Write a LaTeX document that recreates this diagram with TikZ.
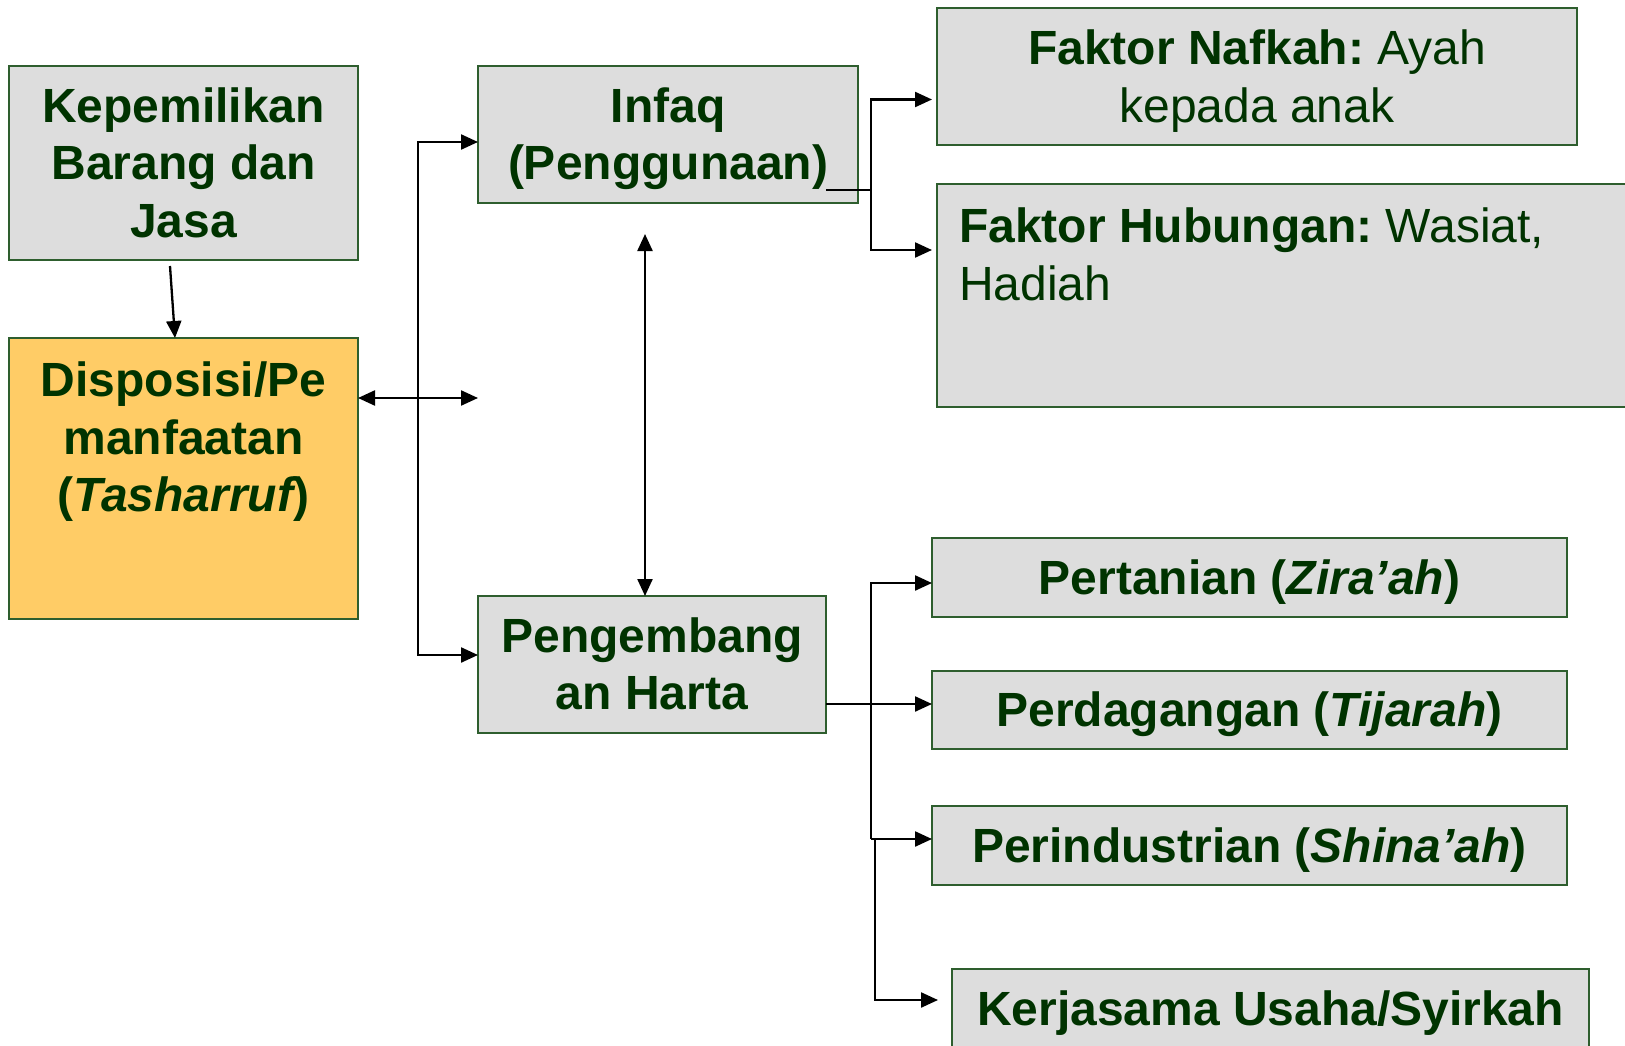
\documentclass[tikz,border=0pt]{standalone}
\usepackage{fontspec}
\setmainfont{Liberation Sans}
\usetikzlibrary{arrows.meta,calc}
\definecolor{txtgreen}{HTML}{003300}
\definecolor{boxline}{HTML}{2E5E2E}
\definecolor{boxgray}{HTML}{DDDDDD}
\definecolor{boxorange}{HTML}{FFCC66}
\newcommand\ls{\rule[-0.212em]{0pt}{1.117em}}
\newcommand\itx[1]{{\itshape #1}}
\frenchspacing
\tikzset{
  box/.style={draw=boxline, line width=2pt, fill=boxgray, rectangle, anchor=north west,
    inner sep=0pt, outer sep=0pt, align=center, text=txtgreen, font=\bfseries\fontsize{48}{57.5}\selectfont},
  emptybox/.style={draw=boxline, line width=2pt, fill=boxgray, rectangle, anchor=north west,
    inner sep=0pt, outer sep=0pt},
  plainbox/.style={box, font=\fontsize{48}{58}\selectfont},
  txtonly/.style={inner sep=0pt, text=txtgreen, font=\bfseries\fontsize{48}{57.5}\selectfont},
  conn/.style={line width=2.3pt, draw=black},
  tipend/.style={conn, -{Triangle[length=17pt,width=15pt]}},
  tipboth/.style={conn, {Triangle[length=17pt,width=15pt]}-{Triangle[length=17pt,width=15pt]}},
}
\begin{document}
\begin{tikzpicture}[x=1pt,y=-1pt]
\useasboundingbox (0,0) rectangle (1625,1046);
\clip (0,0) rectangle (1625,1046);
\fill[white] (0,0) rectangle (1625,1046);

% left column
\node[box, minimum width=349pt, minimum height=194pt] (kep) at (9,66) {\ls Kepemilikan\\Barang dan\\Jasa\ls};
\node[emptybox, fill=boxorange, minimum width=349pt, minimum height=281pt] (disp) at (9,338) {};
\node[txtonly, anchor=north, align=center] (disptxt) at ($(disp.north)+(0,24)$) {Disposisi/Pe\\manfaatan\\(\itx{Tasharruf})};

% middle column
\node[box, minimum width=380pt, minimum height=137pt] (infaq) at (478,66) {\ls Infaq\\(Penggunaan)\ls};
\node[box, minimum width=348pt, minimum height=137pt] (peng) at (478,596) {\ls Pengembang\\an Harta\ls};

% right column top
\node[plainbox, minimum width=640pt, minimum height=137pt] (nafkah) at (937,8) {\ls\textbf{Faktor Nafkah:} Ayah\\kepada anak\ls};
\node[emptybox, minimum width=713pt, minimum height=223pt] (hub) at (937,184) {};
\node[inner sep=0pt, text=txtgreen, font=\fontsize{48}{58}\selectfont, anchor=north west, align=left] (hubtxt) at ($(hub.north west)+(22,24)$) {\textbf{Faktor Hubungan:} Wasiat,\\Hadiah};

% right column bottom
\node[box, minimum width=635pt, minimum height=79pt] (pert) at (932,538) {\ls Pertanian (\itx{Zira’ah})};
\node[box, minimum width=635pt, minimum height=78pt] (dag) at (932,671) {\ls Perdagangan (\itx{Tijarah})};
\node[box, minimum width=635pt, minimum height=79pt] (ind) at (932,806) {\ls Perindustrian (\itx{Shina’ah})};
\node[box, minimum width=637pt, minimum height=80pt] (kerja) at (952,969) {\ls Kerjasama Usaha/Syirkah};

% coordinates
\coordinate (kepout) at ($(kep.south west)+(161,6)$);
\coordinate (dispin) at ($(disp.north west)+(166,0)$);
\coordinate (dispout) at ($(disp.north east)+(0,60)$);
\coordinate (dispfree) at (478,398);
\coordinate (infaqin) at ($(infaq.north west)+(0,76)$);
\coordinate (pengin) at ($(peng.north west)+(0,59)$);
\coordinate (vtop) at ($(infaq.south west)+(167,31)$);
\coordinate (vbot) at ($(peng.north west)+(167,0)$);
\coordinate (infaqout) at ($(infaq.south east)+(-32,-13)$);
\coordinate (jA) at ($(infaqout)+(45,0)$);
\coordinate (nafin) at ($(nafkah.north west)+(-5,91.5)$);
\coordinate (hubin) at ($(hub.north west)+(-5,66)$);
\coordinate (pengout) at ($(peng.north east)+(0,108)$);
\coordinate (pertin) at ($(pert.north west)+(0,45)$);
\coordinate (dagin) at ($(dag.north west)+(0,33)$);
\coordinate (indin) at ($(ind.north west)+(0,33)$);
\coordinate (jB) at ($(indin)+(-61,0)$);
\coordinate (jC) at ($(indin)+(-57,0)$);
\coordinate (kerjain) at ($(kerja.north west)+(-14,31)$);

% connectors
\draw[tipend] (kepout) -- (dispin);
\draw[tipboth] (dispout) -- (dispfree);
\draw[tipboth] (infaqin) -- ++(-60,0) |- (pengin);
\draw[tipboth] (vtop) -- (vbot);

\draw[conn, line width=1.6pt] (infaqout) -- (jA);
\draw[tipend] (jA) |- (nafin);
\draw[tipend] (jA) |- (hubin);

\draw[tipend] (pengout) -- (dagin);
\draw[tipend] (jB) |- (pertin);
\draw[tipend] (jB) -- (indin);
\draw[tipend] (jC) |- (kerjain);
\end{tikzpicture}
\end{document}
